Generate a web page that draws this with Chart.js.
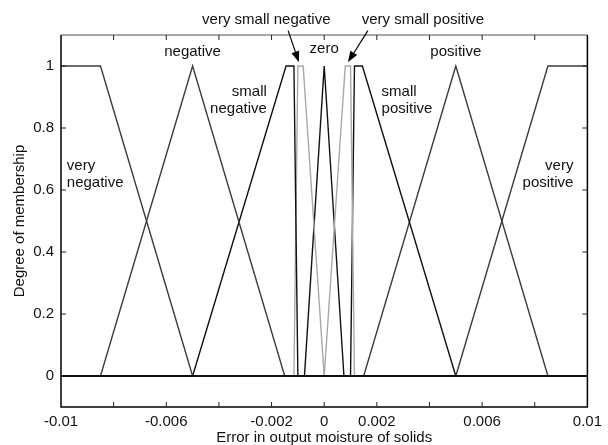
<!DOCTYPE html>
<html>
<head>
<meta charset="utf-8">
<script src="https://cdn.jsdelivr.net/npm/chart.js@4/dist/chart.umd.min.js"></script>
<style>
  html, body { margin: 0; padding: 0; background: #fff; }
  #wrap { width: 608px; height: 445px; }
</style>
</head>
<body>
<div id="wrap"><canvas id="c" width="608" height="445"></canvas></div>
<script>
// ---- data ----
const veryNegativeX = [-0.01, -0.0085, -0.005, 0.01];
const veryNegativeY = [1, 1, 0, 0];
const negativeX = [-0.01, -0.0085, -0.005, -0.0015, 0.01];
const negativeY = [0, 0, 1, 0, 0];
const smallNegativeX = [-0.01, -0.005, -0.00145, -0.00115, -0.001, 0.01];
const smallNegativeY = [0, 0, 1, 1, 0, 0];
const verySmallNegativeX = [-0.01, -0.00115, -0.001, -0.0008, 0.0, 0.01];
const verySmallNegativeY = [0, 0, 1, 1, 0, 0];
const zeroX = [-0.01, -0.00075, 0.0, 0.00075, 0.01];
const zeroY = [0, 0, 1, 0, 0];
const verySmallPositiveX = [-0.01, 0.0, 0.0008, 0.001, 0.00115, 0.01];
const verySmallPositiveY = [0, 0, 1, 1, 0, 0];
const smallPositiveX = [-0.01, 0.001, 0.00115, 0.00145, 0.005, 0.01];
const smallPositiveY = [0, 0, 1, 1, 0, 0];
const positiveX = [-0.01, 0.0015, 0.005, 0.0085, 0.01];
const positiveY = [0, 0, 1, 0, 0];
const veryPositiveX = [-0.01, 0.005, 0.0085, 0.01];
const veryPositiveY = [0, 0, 1, 1];

const xTickValues = [-0.01, -0.008, -0.006, -0.004, -0.002, 0, 0.002, 0.004, 0.006, 0.008, 0.01];
const xTickLabels = ['-0.01', '', '-0.006', '', '-0.002', '0', '0.002', '', '0.006', '', '0.01'];
const yTickValues = [0, 0.2, 0.4, 0.6, 0.8, 1];
const yTickLabels = ['0', '0.2', '0.4', '0.6', '0.8', '1'];

const xTitle = 'Error in output moisture of solids';
const yTitle = 'Degree of membership';

function pts(xs, ys) { return xs.map((x, i) => ({ x: x, y: ys[i] })); }

const dark = '#3c3c3c';
const black = '#111111';
const light = '#a8a8a8';

const series = [
  { label: 'very negative', d: pts(veryNegativeX, veryNegativeY), c: dark },
  { label: 'negative', d: pts(negativeX, negativeY), c: dark },
  { label: 'small negative', d: pts(smallNegativeX, smallNegativeY), c: black },
  { label: 'very small negative', d: pts(verySmallNegativeX, verySmallNegativeY), c: light },
  { label: 'very small positive', d: pts(verySmallPositiveX, verySmallPositiveY), c: light },
  { label: 'zero', d: pts(zeroX, zeroY), c: black },
  { label: 'small positive', d: pts(smallPositiveX, smallPositiveY), c: black },
  { label: 'positive', d: pts(positiveX, positiveY), c: dark },
  { label: 'very positive', d: pts(veryPositiveX, veryPositiveY), c: dark }
];

const FONT = '"Liberation Sans", Arial, sans-serif';

// annotations in data coordinates
const labelsCfg = [
  { lines: ['very small negative'], x: -0.0022, y: 1.15, align: 'center' },
  { lines: ['very small positive'], x: 0.00375, y: 1.15, align: 'center' },
  { lines: ['zero'], x: 0.0, y: 1.054, align: 'center' },
  { lines: ['negative'], x: -0.005, y: 1.047, align: 'center' },
  { lines: ['positive'], x: 0.005, y: 1.047, align: 'center' },
  { lines: ['small', 'negative'], x: -0.00218, y: 0.915, align: 'right' },
  { lines: ['small', 'positive'], x: 0.00218, y: 0.915, align: 'left' },
  { lines: ['very', 'negative'], x: -0.00978, y: 0.677, align: 'left' },
  { lines: ['very', 'positive'], x: 0.00947, y: 0.677, align: 'right' }
];
const arrowsCfg = [
  { x0: -0.00137, y0: 1.114, x1: -0.00096, y1: 1.012 },
  { x0: 0.00166, y0: 1.114, x1: 0.00090, y1: 1.012 }
];

const framePlugin = {
  id: 'frame',
  afterDatasetsDraw(chart) {
    const { ctx, chartArea: a, scales } = chart;
    const xs = scales.x, ys = scales.y;
    ctx.save();
    // zero line
    ctx.strokeStyle = '#000';
    ctx.lineWidth = 1.5;
    const y0 = ys.getPixelForValue(0);
    ctx.beginPath(); ctx.moveTo(a.left, y0); ctx.lineTo(a.right, y0); ctx.stroke();
    // frame
    ctx.lineWidth = 1.5;
    ctx.strokeStyle = '#8a8a8a';
    ctx.beginPath(); ctx.moveTo(a.left, a.top); ctx.lineTo(a.right, a.top); ctx.stroke();
    ctx.strokeStyle = '#000';
    ctx.beginPath();
    ctx.moveTo(a.left, a.top); ctx.lineTo(a.left, a.bottom); ctx.lineTo(a.right, a.bottom); ctx.lineTo(a.right, a.top);
    ctx.stroke();
    // inward ticks
    ctx.lineWidth = 1;
    ctx.strokeStyle = '#222';
    const tl = 5;
    xs.ticks.forEach(t => {
      if (t.value <= xs.min || t.value >= xs.max) return;
      const px = xs.getPixelForValue(t.value);
      ctx.beginPath();
      ctx.moveTo(px, a.bottom); ctx.lineTo(px, a.bottom - tl);
      ctx.moveTo(px, a.top); ctx.lineTo(px, a.top + tl);
      ctx.stroke();
    });
    ys.ticks.forEach(t => {
      const py = ys.getPixelForValue(t.value);
      ctx.beginPath();
      ctx.moveTo(a.left, py); ctx.lineTo(a.left + tl, py);
      ctx.moveTo(a.right, py); ctx.lineTo(a.right - tl, py);
      ctx.stroke();
    });
    // text annotations
    ctx.fillStyle = '#111';
    ctx.font = '15px ' + FONT;
    ctx.textBaseline = 'middle';
    labelsCfg.forEach(l => {
      const px = xs.getPixelForValue(l.x);
      const py = ys.getPixelForValue(l.y);
      ctx.textAlign = l.align;
      l.lines.forEach((s, i) => ctx.fillText(s, px, py + i * 17));
    });
    // arrows
    arrowsCfg.forEach(ar => {
      const x0 = xs.getPixelForValue(ar.x0), y0p = ys.getPixelForValue(ar.y0);
      const x1 = xs.getPixelForValue(ar.x1), y1p = ys.getPixelForValue(ar.y1);
      const ang = Math.atan2(y1p - y0p, x1 - x0);
      const hl = 11, hw = 4;
      const bx = x1 - hl * Math.cos(ang), by = y1p - hl * Math.sin(ang);
      ctx.strokeStyle = '#000';
      ctx.lineWidth = 1.2;
      ctx.beginPath(); ctx.moveTo(x0, y0p); ctx.lineTo(bx, by); ctx.stroke();
      ctx.fillStyle = '#000';
      ctx.beginPath();
      ctx.moveTo(x1, y1p);
      ctx.lineTo(bx + hw * Math.sin(ang), by - hw * Math.cos(ang));
      ctx.lineTo(bx - hw * Math.sin(ang), by + hw * Math.cos(ang));
      ctx.closePath(); ctx.fill();
    });
    ctx.restore();
  }
};

new Chart(document.getElementById('c'), {
  type: 'scatter',
  data: {
    datasets: series.map(s => ({
      label: s.label,
      data: s.d,
      showLine: true,
      borderColor: s.c,
      backgroundColor: s.c,
      borderWidth: 1.4,
      pointRadius: 0,
      tension: 0
    }))
  },
  options: {
    responsive: false,
    animation: false,
    devicePixelRatio: 1,
    layout: { padding: { left: 0, right: 20, top: 35, bottom: -2 } },
    plugins: { legend: { display: false }, tooltip: { enabled: false } },
    scales: {
      x: {
        type: 'linear',
        min: -0.01, max: 0.01,
        afterBuildTicks: s => { s.ticks = xTickValues.map(v => ({ value: v })); },
        afterFit: s => { s.height = 40; },
        grid: { display: false, drawTicks: false },
        border: { display: false },
        ticks: {
          autoSkip: false, maxRotation: 0, padding: 6,
          color: '#111', font: { family: FONT, size: 15 },
          callback: (v, i) => xTickLabels[xTickValues.findIndex(t => Math.abs(t - v) < 1e-9)] ?? ''
        },
        title: { display: true, text: xTitle, color: '#111', font: { family: FONT, size: 15 }, padding: { top: 0, bottom: 0 } }
      },
      y: {
        type: 'linear',
        min: -0.1, max: 1.1,
        afterBuildTicks: s => { s.ticks = yTickValues.map(v => ({ value: v })); },
        afterFit: s => { s.width = 61; },
        grid: { display: false, drawTicks: false },
        border: { display: false },
        ticks: {
          autoSkip: false, padding: 7,
          color: '#111', font: { family: FONT, size: 15 },
          callback: (v) => yTickLabels[yTickValues.findIndex(t => Math.abs(t - v) < 1e-9)] ?? ''
        },
        title: { display: true, text: yTitle, color: '#111', font: { family: FONT, size: 15 }, padding: { top: 11, bottom: 4 } }
      }
    }
  },
  plugins: [framePlugin]
});
</script>
</body>
</html>
